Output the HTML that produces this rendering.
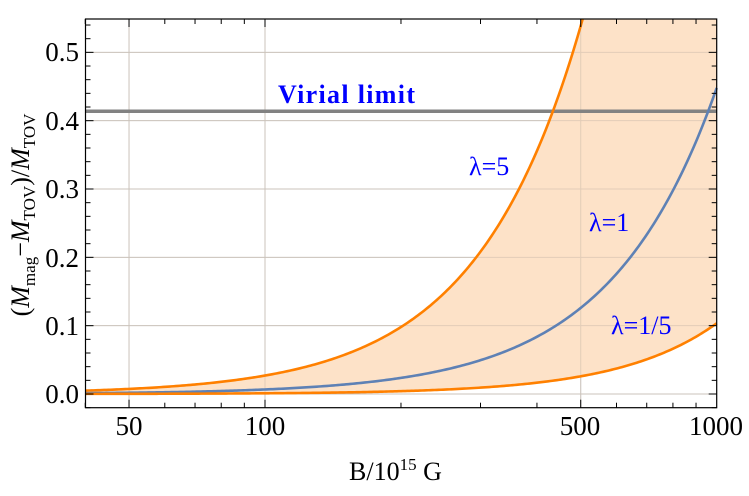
<!DOCTYPE html>
<html><head><meta charset="utf-8"><style>
body{margin:0;background:#fff}
svg{display:block;font-family:"Liberation Serif",serif}
</style></head><body>
<svg id="s" width="749" height="496" viewBox="0 0 749 496" xmlns="http://www.w3.org/2000/svg">
<g id="grid" stroke="#d0d0d0" stroke-width="1"></g>
<path id="fill" fill="#fde2c8" stroke="none"/>
<g id="gridover" stroke="#c8b8a8" stroke-width="1" opacity="0.5"></g>
<line x1="85.5" x2="716.7" y1="111.3" y2="111.3" stroke="#828282" stroke-width="3.5"/>
<path id="c5" fill="none" stroke="#ff8000" stroke-width="2.6"/>
<path id="c1" fill="none" stroke="#5e81b5" stroke-width="2.6"/>
<path id="c15" fill="none" stroke="#ff8000" stroke-width="2.6"/>
<g id="ticks" stroke="#000" stroke-width="1"></g>
<rect x="85.5" y="19" width="631.2" height="388.7" fill="none" stroke="#000" stroke-width="1.2"/>
<g font-size="27" text-anchor="end" fill="#000">
<text x="79" y="403">0.0</text><text x="79" y="335">0.1</text><text x="79" y="267">0.2</text>
<text x="79" y="198">0.3</text><text x="79" y="130">0.4</text><text x="79" y="61">0.5</text>
</g>
<g font-size="27" text-anchor="middle" fill="#000">
<text x="129" y="435">50</text><text x="265" y="435">100</text><text x="580" y="435">500</text><text x="716" y="435">1000</text>
</g>
<text x="349" y="480" font-size="26">B/10<tspan font-size="17" dy="-10">15</tspan><tspan dy="10"> G</tspan></text>
<text transform="translate(29,215) rotate(-90)" font-size="26" text-anchor="middle">(<tspan font-style="italic">M</tspan><tspan font-size="17" dy="6">mag</tspan><tspan dy="-6">−</tspan><tspan font-style="italic">M</tspan><tspan font-size="17" dy="6">TOV</tspan><tspan dy="-6">)/</tspan><tspan font-style="italic">M</tspan><tspan font-size="17" dy="6">TOV</tspan></text>
<g fill="#0000ff" font-size="26">
<text x="278" y="103" font-weight="bold" textLength="137">Virial limit</text>
<text x="469" y="175">λ=5</text>
<text x="589" y="231">λ=1</text>
<text x="611" y="334">λ=1/5</text>
</g>
</svg>
<script>
var X=function(b){return 265+451.7*Math.log10(b/100)};
var Y=function(v){return 394-683.3*v};
function f5(b){return 0.027*Math.pow(b/100,1.86)}
function f1(b){return 0.448*Math.pow(b/1000,1.83)}
function f15(b){return 0.1035*Math.pow(b/1000,2)}
function pts(f){var a=[];for(var i=0;i<=300;i++){var b=40*Math.pow(25,i/300);var v=f(b);var y=Y(v);if(y<19){
 var lo=b/1.02,hi=b;for(var k=0;k<30;k++){var m=(lo+hi)/2;if(Y(f(m))<19)hi=m;else lo=m;}a.push([X(lo),19]);break;}
 a.push([X(b),y]);}return a;}
function d(a){return 'M'+a.map(function(p){return p[0].toFixed(2)+','+p[1].toFixed(2)}).join('L')}
var p5=pts(f5),p1=pts(f1),p15=pts(f15);
document.getElementById('c5').setAttribute('d',d(p5));
document.getElementById('c1').setAttribute('d',d(p1));
document.getElementById('c15').setAttribute('d',d(p15));
document.getElementById('fill').setAttribute('d',d(p5)+'L716.7,19'+'L'+p15.slice().reverse().map(function(p){return p[0].toFixed(2)+','+p[1].toFixed(2)}).join('L')+'Z');
var g=document.getElementById('grid'),go=document.getElementById('gridover'),t=document.getElementById('ticks'),ns='http://www.w3.org/2000/svg';
function ln(par,x1,y1,x2,y2){var l=document.createElementNS(ns,'line');l.setAttribute('x1',x1);l.setAttribute('y1',y1);l.setAttribute('x2',x2);l.setAttribute('y2',y2);par.appendChild(l);}
[50,100,500].forEach(function(b){ln(g,X(b),19,X(b),407.7);ln(go,X(b),19,X(b),407.7);});
[0,0.1,0.2,0.3,0.4,0.5].forEach(function(v){ln(g,85.5,Y(v),716.7,Y(v));ln(go,85.5,Y(v),716.7,Y(v));});
[40,50,60,70,80,90,100,200,300,400,500,600,700,800,900].forEach(function(b){var x=X(b),L=(b==50||b==100||b==500)?8:5;ln(t,x,407.7,x,407.7-L);ln(t,x,19,x,19+L);});
for(var i=-1;i<=27;i++){var v=i*0.02,y=Y(v);if(y<19||y>407.7)continue;var L=(i%5==0)?8:5;ln(t,85.5,y,85.5+L,y);ln(t,716.7,y,716.7-L,y);}
</script>
</body></html>
